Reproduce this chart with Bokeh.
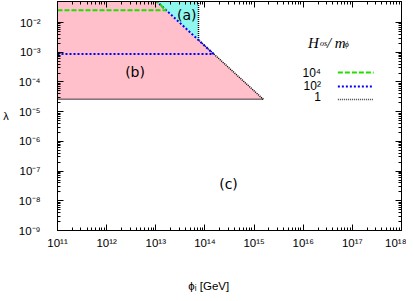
import math
from bokeh.plotting import figure
from bokeh.models import LogAxis, FixedTicker, CustomJSTickFormatter, Label, Arrow
from bokeh.core.properties import value
from bokeh.embed import file_html
from bokeh.resources import INLINE

# ---------------- data ----------------
x_decades = [1e11, 1e12, 1e13, 1e14, 1e15, 1e16, 1e17, 1e18]
y_decades = [1e-9, 1e-8, 1e-7, 1e-6, 1e-5, 1e-4, 1e-3, 1e-2]
x_lim = [1e11, 1e18]
y_lim = [1e-9, 0.0513]

# region (b): pink
b_phi = [1e11, 1.55e15, 1.05e13, 1e11]
b_lam = [2.6e-5, 2.6e-5, 0.0513, 0.0513]
# region (a): cyan
a_phi = [1.05e13, 7.4e13, 7.4e13]
a_lam = [0.0513, 2.6e-3, 0.0513]

# boundary curves for H_os/m_phi
h1_phi = [1e11, 1.55e15, 7.4e13, 7.4e13]
h1_lam = [2.6e-5, 2.6e-5, 2.6e-3, 0.0513]
h2_phi = [1e11, 1.5e14, 1.05e13]
h2_lam = [8.7e-4, 8.7e-4, 0.0513]
h4_phi = [1e11, 1.62e13, 1.05e13]
h4_lam = [2.6e-2, 2.6e-2, 0.0513]

legend_labels = ["10\u2074", "10\u00b2", "1"]
region_labels = ["(a)", "(b)", "(c)"]

# ---------------- layout ----------------
W, H = 406, 301
FL, FR, FT, FB = 55, 401, 1, 230   # frame edges in page pixels

def px_x(px):
    a, b = math.log10(x_lim[0]), math.log10(x_lim[1])
    return 10 ** (a + (px - FL) / (FR - FL) * (b - a))

def px_y(py):
    a, b = math.log10(y_lim[0]), math.log10(y_lim[1])
    return 10 ** (a + (FB - py) / (FB - FT) * (b - a))

p = figure(width=W, height=H, x_axis_type="log", y_axis_type="log",
           x_range=tuple(x_lim), y_range=tuple(y_lim),
           output_backend="svg", toolbar_location=None,
           min_border_left=FL, min_border_right=W - FR,
           min_border_top=FT, min_border_bottom=H - FB)
p.xgrid.visible = False
p.ygrid.visible = False
p.outline_line_color = "black"
p.outline_line_width = 1
p.background_fill_color = "white"
p.border_fill_color = "white"

x_bottom = p.below[0]
y_left = p.left[0]

def minors(decs):
    out = []
    for d in decs[:-1]:
        out += [d * k for k in range(2, 10)]
    return out

fmt_js = """
const sup = {'-':'\u207b','0':'\u2070','1':'\u00b9','2':'\u00b2','3':'\u00b3','4':'\u2074','5':'\u2075','6':'\u2076','7':'\u2077','8':'\u2078','9':'\u2079'};
const e = Math.round(Math.log10(tick));
return '10' + String(e).split('').map(c => sup[c]).join('');
"""

def style_axis(ax, decs, show_labels, standoff):
    ax.ticker = FixedTicker(ticks=decs, minor_ticks=minors(decs))
    ax.major_tick_in = 6
    ax.major_tick_out = 0
    ax.minor_tick_in = 3
    ax.minor_tick_out = 0
    ax.axis_line_color = "black"
    ax.major_tick_line_color = "black"
    ax.minor_tick_line_color = "black"
    if show_labels:
        ax.formatter = CustomJSTickFormatter(code=fmt_js)
        ax.major_label_text_font = "Liberation Sans"
        ax.major_label_text_font_size = "11.5px"
        ax.major_label_text_color = "black"
        ax.major_label_standoff = standoff
    else:
        ax.formatter = CustomJSTickFormatter(code="return '';")
        ax.major_label_text_font_size = "0px"
        ax.major_label_standoff = 0

style_axis(x_bottom, x_decades, True, 6)
style_axis(y_left, y_decades, True, 17)
ax_top = LogAxis()
style_axis(ax_top, x_decades, False, 0)
p.add_layout(ax_top, "above")
ax_right = LogAxis()
style_axis(ax_right, y_decades, False, 0)
p.add_layout(ax_right, "right")

# y axis label (lambda), horizontal
y_left.axis_label = "\u03bb"
y_left.axis_label_orientation = "horizontal"
y_left.axis_label_standoff = 7
y_left.axis_label_text_font = "Liberation Sans"
y_left.axis_label_text_font_style = "normal"
y_left.axis_label_text_font_size = "11px"
y_left.axis_label_text_color = "black"

# x axis label; trailing no-break spaces shift the visible text left of centre
x_bottom.axis_label = "\u03d5\u1d62 [GeV]" + "\u00a0" * 13
x_bottom.axis_label_standoff = 28
x_bottom.axis_label_text_font = "Liberation Sans"
x_bottom.axis_label_text_font_style = "normal"
x_bottom.axis_label_text_font_size = "11.5px"
x_bottom.axis_label_text_color = "black"

# regions
p.patch(b_phi, b_lam, fill_color="#ffc0cb", line_color=None)
p.patch(a_phi, a_lam, fill_color="#8ff7ee", line_color=None)

# curves
p.line(h1_phi, h1_lam, line_color="black", line_width=1.5, line_dash="1 1")
p.line(h2_phi, h2_lam, line_color="#0000ff", line_width=2, line_dash="2 2")
p.line(h4_phi, h4_lam, line_color="#22dd00", line_width=2, line_dash="5 2")

# region labels
reg_pos = [(185, 14), (133, 71), (227, 183)]
for t, (px, py) in zip(region_labels, reg_pos):
    p.add_layout(Label(x=px_x(px), y=px_y(py), text=t, text_align="center",
                       text_baseline="middle", text_font="DejaVu Sans",
                       text_font_size="14px", text_color="black"))

# legend title H_os / m_phi
serif = "Liberation Serif"
for t, px, py, size in [("H", 307, 42, "15px"), ("os", 319, 43, "8px"),
                        ("/ m", 326, 42, "15px"), ("\u03d5", 344, 44, "8px")]:
    p.add_layout(Label(x=px_x(px), y=px_y(py), text=t, text_font=serif,
                       text_font_style="italic", text_font_size=size,
                       text_baseline="alphabetic", text_align="left",
                       text_color="black"))

# legend entries
leg_styles = [("#22dd00", "5 2", 2), ("#0000ff", "2 2", 2), ("#444444", "1 1", 1.5)]
text_y = [72, 85, 96]
line_y = [72, 86, 99]
for lab, ty, ly, (c, d, w) in zip(legend_labels, text_y, line_y, leg_styles):
    p.add_layout(Label(x=px_x(320), y=px_y(ty), text=lab, text_align="right",
                       text_baseline="middle", text_font="Liberation Sans",
                       text_font_size="12px", text_color="black"))
    p.add_layout(Arrow(x_start=px_x(337), y_start=px_y(ly), x_end=px_x(373),
                       y_end=px_y(ly), end=None, line_color=c, line_dash=d,
                       line_width=w))

open("out.html", "w").write(file_html(p, INLINE))
